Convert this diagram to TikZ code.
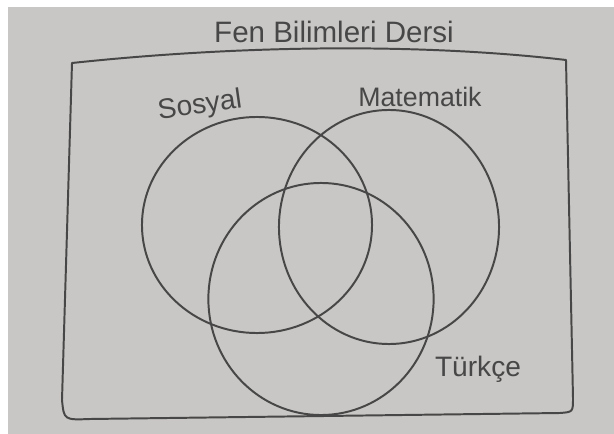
\documentclass[tikz,border=0pt]{standalone}
\usepackage{fontspec}
\setmainfont{Liberation Sans}
\usepackage{tikz}
\usetikzlibrary{shapes.geometric}
\definecolor{paperGray}{HTML}{C9C7C5}
\definecolor{pencil}{HTML}{474747}
\tikzset{
  pencilline/.style={draw=pencil,line width=1.4pt,line cap=round,line join=round},
  setring/.style={ellipse,pencilline,inner sep=0pt},
  handlabel/.style={text=pencil,font=\fontsize{20}{24}\selectfont,inner sep=0pt}
}

\begin{document}
\begin{tikzpicture}[x=0.025cm,y=-0.025cm]
      \useasboundingbox (0,0) rectangle (614,434);
      \fill[white] (0,0) rectangle (614,434);
      \fill[paperGray] (8,7) rectangle (614,434);

      % frame of the course
      \draw[pencilline] (72,63) .. controls (250,44) and (430,44) .. (566,60)
        -- (573,398) .. controls (573,412) .. (560,413)
        -- (90,419) .. controls (64,420) .. (62,400) -- cycle;

      \node[handlabel, font=\fontsize{21}{25}\selectfont] (baslik) at (334,32) {Fen Bilimleri Dersi};

      \node[setring, minimum width=5.75cm, minimum height=5.4cm] (sosyal) at (257,225) {};
      \node[setring, minimum width=5.5cm, minimum height=5.85cm] (matematik) at (389,227) {};
      \node[setring, minimum width=5.63cm, minimum height=5.8cm] (turkce) at (321,299) {};

      \node[handlabel, rotate=8] (lblsosyal) at (200,106) {Sosyal};
      \node[handlabel, font=\fontsize{19}{23}\selectfont] (lblmatematik) at (420,97) {Matematik};
      \node[handlabel] (lblturkce) at (478,369) {Türkçe};
    \end{tikzpicture}
\end{document}
